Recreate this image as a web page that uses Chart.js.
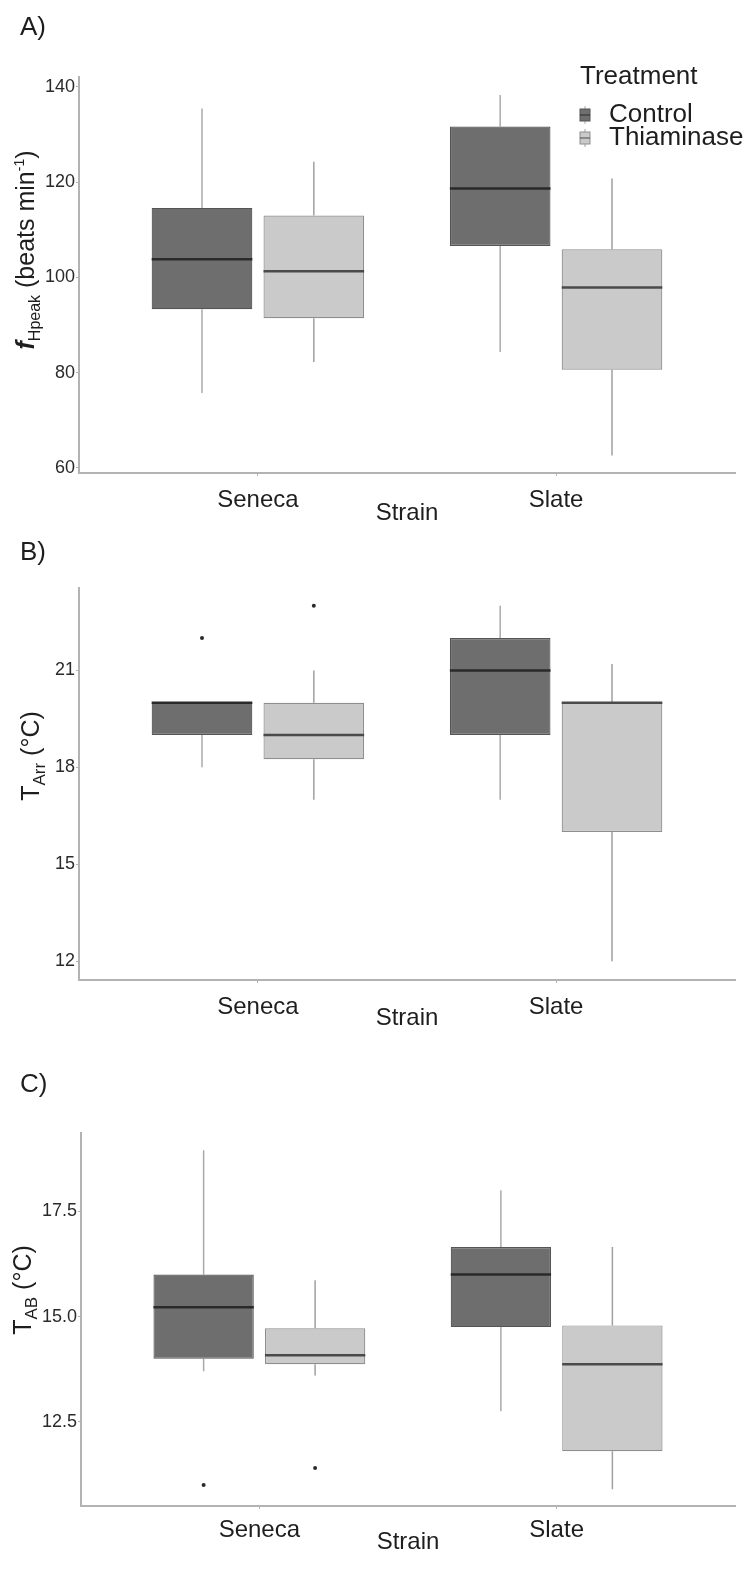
<!DOCTYPE html>
<html lang="en">
<head>
    <meta charset="utf-8" />
    <title>fHpeak, TArr and TAB by strain and treatment</title>
    <script src="https://cdn.jsdelivr.net/npm/chart.js@4.4.1/dist/chart.umd.min.js"></script>
    <style>
        html, body {
            margin: 0;
            padding: 0;
            background: #fff;
        }
        body {
            width: 754px;
            height: 1592px;
            position: relative;
            overflow: hidden;
        }
        .panel {
            position: absolute;
            left: 0;
            width: 754px;
        }
        .panel canvas {
            display: block;
        }
    </style>
</head>
<body>
    <div class="panel" style="top:0px;"><canvas id="chartA" width="754" height="530"></canvas></div>
    <div class="panel" style="top:530px;"><canvas id="chartB" width="754" height="520"></canvas></div>
    <div class="panel" style="top:1050px;"><canvas id="chartC" width="754" height="542"></canvas></div>

    <script>
        var strains = ["Seneca", "Slate"];
        var treatments = ["Control", "Thiaminase"];

        // each box: [lower whisker, q1, median, q3, upper whisker], one per strain
        var hrControl = [[75.7, 93.3, 103.8, 114.6, 135.5], [84.3, 106.6, 118.7, 131.7, 138.3]];
        var hrThiaminase = [[82.2, 91.4, 101.3, 113.0, 124.3], [62.6, 80.6, 97.9, 105.9, 120.8]];
        var hrControlOut = [[], []];
        var hrThiaminaseOut = [[], []];
        var hrTicks = [60, 80, 100, 120, 140];

        var arrControl = [[18, 19, 20, 20, 20], [17, 19, 21, 22, 23]];
        var arrThiaminase = [[17, 18.25, 19, 20, 21], [12, 16, 20, 20, 21.2]];
        var arrControlOut = [[22], []];
        var arrThiaminaseOut = [[23], []];
        var arrTicks = [12, 15, 18, 21];

        var abControl = [[13.7, 14.0, 15.22, 16.0, 18.95], [12.75, 14.75, 16.0, 16.65, 18.0]];
        var abThiaminase = [[13.6, 13.87, 14.08, 14.72, 15.86], [10.9, 11.8, 13.87, 14.79, 16.65]];
        var abControlOut = [[11.0], []];
        var abThiaminaseOut = [[11.4], []];
        var abTicks = [12.5, 15.0, 17.5];

        var FONT = '"Liberation Sans", Arial, Helvetica, sans-serif';
        var TEXT = '#1e1e1e';
        var AXIS = '#b3b3b3';
        var fills = ['#6d6e6d', '#cacaca'];
        var borders = ['#555555', '#8e8e8e'];
        var medians = ['#2a2a2a', '#4a4a4a'];
        var whiskers = ['#aaaaaa', '#a0a0a0'];

        Chart.defaults.font.family = FONT;
        Chart.defaults.color = TEXT;

        // whiskers behind the boxes, medians and outliers on top
        var boxParts = {
            id: 'boxParts',
            beforeDatasetsDraw: function (chart) {
                var ctx = chart.ctx, ys = chart.scales.y;
                chart.data.datasets.forEach(function (ds, di) {
                    chart.getDatasetMeta(di).data.forEach(function (bar, i) {
                        var s = ds.stats[i];
                        ctx.save();
                        ctx.strokeStyle = whiskers[di];
                        ctx.lineWidth = 1.5;
                        ctx.beginPath();
                        ctx.moveTo(bar.x, ys.getPixelForValue(s[0]));
                        ctx.lineTo(bar.x, ys.getPixelForValue(s[1]));
                        ctx.moveTo(bar.x, ys.getPixelForValue(s[3]));
                        ctx.lineTo(bar.x, ys.getPixelForValue(s[4]));
                        ctx.stroke();
                        ctx.restore();
                    });
                });
            },
            afterDatasetsDraw: function (chart) {
                var ctx = chart.ctx, ys = chart.scales.y;
                chart.data.datasets.forEach(function (ds, di) {
                    chart.getDatasetMeta(di).data.forEach(function (bar, i) {
                        var s = ds.stats[i];
                        var my = ys.getPixelForValue(s[2]);
                        ctx.save();
                        ctx.strokeStyle = medians[di];
                        ctx.lineWidth = 2.5;
                        ctx.beginPath();
                        ctx.moveTo(bar.x - bar.width / 2, my);
                        ctx.lineTo(bar.x + bar.width / 2, my);
                        ctx.stroke();
                        ctx.fillStyle = '#2a2a2a';
                        ds.outliers[i].forEach(function (v) {
                            ctx.beginPath();
                            ctx.arc(bar.x, ys.getPixelForValue(v), 2, 0, Math.PI * 2);
                            ctx.fill();
                        });
                        ctx.restore();
                    });
                });
            }
        };

        // panel letter, rotated y title with sub/superscripts, and legend
        var decorations = {
            id: 'decorations',
            afterDraw: function (chart, args, o) {
                var ctx = chart.ctx;
                ctx.save();
                ctx.fillStyle = TEXT;
                ctx.textBaseline = 'middle';
                ctx.font = '26px ' + FONT;
                ctx.fillText(o.letter, 20, o.letterY);

                var parts = o.yTitle, total = 0;
                parts.forEach(function (p) {
                    ctx.font = p.font + ' ' + FONT;
                    p.w = ctx.measureText(p.t).width;
                    total += p.w;
                });
                ctx.translate(o.yTitleX, o.yTitleY);
                ctx.rotate(-Math.PI / 2);
                ctx.textBaseline = 'alphabetic';
                ctx.textAlign = 'left';
                var x = -total / 2;
                parts.forEach(function (p) {
                    ctx.font = p.font + ' ' + FONT;
                    ctx.fillText(p.t, x, 9 + (p.dy || 0));
                    x += p.w;
                });
                ctx.restore();

                if (o.legend) {
                    ctx.save();
                    ctx.fillStyle = TEXT;
                    ctx.textBaseline = 'middle';
                    ctx.font = '26px ' + FONT;
                    ctx.fillText('Treatment', 580, 77);
                    treatments.forEach(function (t, i) {
                        var cy = 115 + i * 23, cx = 585;
                        ctx.strokeStyle = whiskers[i];
                        ctx.lineWidth = 1;
                        ctx.beginPath();
                        ctx.moveTo(cx, cy - 9);
                        ctx.lineTo(cx, cy + 9);
                        ctx.stroke();
                        ctx.fillStyle = fills[i];
                        ctx.strokeStyle = borders[i];
                        ctx.fillRect(cx - 5, cy - 6, 10, 12);
                        ctx.strokeRect(cx - 5, cy - 6, 10, 12);
                        ctx.strokeStyle = medians[i];
                        ctx.beginPath();
                        ctx.moveTo(cx - 5, cy);
                        ctx.lineTo(cx + 5, cy);
                        ctx.stroke();
                        ctx.fillStyle = TEXT;
                        ctx.fillText(t, 609, cy);
                    });
                    ctx.restore();
                }
            }
        };

        function makePanel(id, p) {
            var canvas = document.getElementById(id);
            var h = canvas.height;
            var axisH = 57;
            var yTicks = p.ticks;
            return new Chart(canvas, {
                type: 'bar',
                data: {
                    datasets: [0, 1].map(function (k) {
                        return {
                            label: treatments[k],
                            data: p.stats[k].map(function (s, i) { return { x: i + 1, y: [s[1], s[3]] }; }),
                            stats: p.stats[k],
                            outliers: p.outliers[k],
                            backgroundColor: fills[k],
                            borderColor: borders[k],
                            borderWidth: 1.2,
                            borderSkipped: false,
                            categoryPercentage: 0.75,
                            barPercentage: 0.9
                        };
                    })
                },
                options: {
                    responsive: false,
                    animation: false,
                    layout: { padding: { top: p.top, bottom: h - p.bottom - axisH, left: 0, right: 19 } },
                    plugins: {
                        legend: { display: false },
                        tooltip: { enabled: false },
                        decorations: {
                            letter: p.letter, letterY: p.letterY,
                            yTitle: p.yTitle, yTitleX: p.yTitleX, yTitleY: p.yTitleY,
                            legend: p.legend
                        }
                    },
                    scales: {
                        x: {
                            type: 'linear',
                            min: 0.4,
                            max: 2.6,
                            offset: false,
                            afterBuildTicks: function (s) {
                                s.ticks = strains.map(function (n, i) { return { value: i + 1 }; });
                            },
                            afterFit: function (s) { s.height = axisH; },
                            ticks: {
                                autoSkip: false,
                                maxRotation: 0,
                                padding: p.tickGap - 3 - 14.4,
                                font: { size: 24 },
                                color: TEXT,
                                callback: function (v) { return strains[v - 1]; }
                            },
                            grid: { offset: false, drawOnChartArea: false, drawTicks: true, tickLength: 3, color: AXIS },
                            border: { display: true, color: AXIS, width: 2 },
                            title: {
                                display: true,
                                text: 'Strain',
                                color: TEXT,
                                font: { size: 24 },
                                padding: { top: 0, bottom: axisH - p.titleGap - 14.4 }
                            }
                        },
                        y: {
                            min: p.min,
                            max: p.max,
                            afterBuildTicks: function (s) {
                                s.ticks = yTicks.map(function (v) { return { value: v }; });
                            },
                            afterFit: function (s) { s.width = p.left; },
                            ticks: {
                                padding: 1,
                                font: { size: 18 },
                                color: '#2a2a2a',
                                callback: function (v) { return p.fmt ? v.toFixed(p.fmt) : String(v); }
                            },
                            grid: { drawOnChartArea: false, drawTicks: true, tickLength: 3, color: AXIS },
                            border: { display: true, color: AXIS, width: 2 }
                        }
                    }
                },
                plugins: [boxParts, decorations]
            });
        }

        makePanel('chartA', {
            stats: [hrControl, hrThiaminase], outliers: [hrControlOut, hrThiaminaseOut],
            ticks: hrTicks, min: 58.9, max: 142.1,
            top: 77, bottom: 473, left: 79, tickGap: 27, titleGap: 40,
            letter: 'A)', letterY: 28, legend: true,
            yTitleX: 25, yTitleY: 250,
            yTitle: [
                { t: 'f', font: 'italic bold 25px' },
                { t: 'Hpeak', font: '16px', dy: 6 },
                { t: ' (beats min', font: '25px' },
                { t: '-1', font: '14px', dy: -10 },
                { t: ')', font: '25px' }
            ]
        });

        makePanel('chartB', {
            stats: [arrControl, arrThiaminase], outliers: [arrControlOut, arrThiaminaseOut],
            ticks: arrTicks, min: 11.42, max: 23.55,
            top: 58, bottom: 450, left: 79, tickGap: 27, titleGap: 38,
            letter: 'B)', letterY: 23, legend: false,
            yTitleX: 30, yTitleY: 226,
            yTitle: [
                { t: 'T', font: '25px' },
                { t: 'Arr', font: '17px', dy: 6 },
                { t: ' (\u00B0C)', font: '25px' }
            ]
        });

        makePanel('chartC', {
            stats: [abControl, abThiaminase], outliers: [abControlOut, abThiaminaseOut],
            ticks: abTicks, min: 10.5, max: 19.36, fmt: 1,
            top: 83, bottom: 456, left: 81, tickGap: 24, titleGap: 36,
            letter: 'C)', letterY: 35, legend: false,
            yTitleX: 22, yTitleY: 240,
            yTitle: [
                { t: 'T', font: '25px' },
                { t: 'AB', font: '17px', dy: 6 },
                { t: ' (\u00B0C)', font: '25px' }
            ]
        });
    </script>
</body>
</html>
